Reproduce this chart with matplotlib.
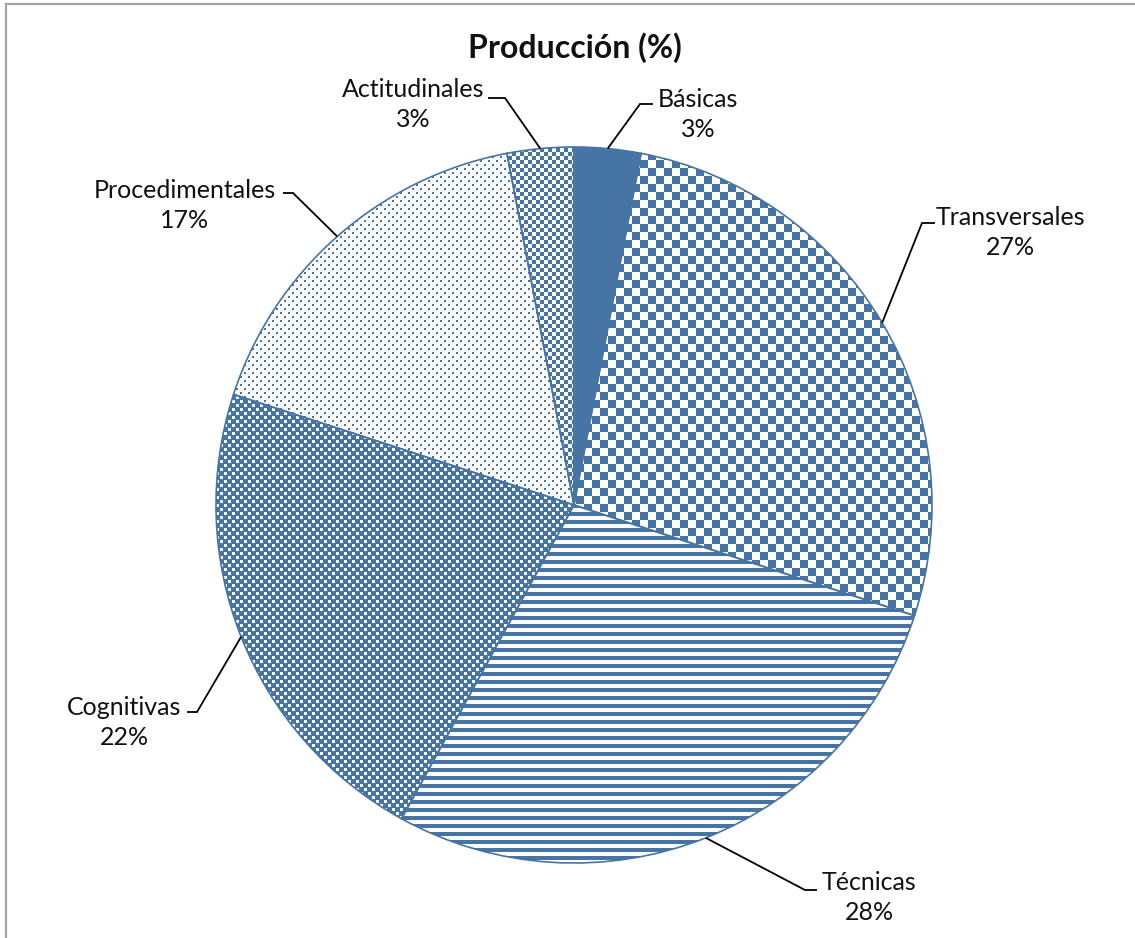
import numpy as np
import matplotlib
matplotlib.use('Agg')
from matplotlib import pyplot as plt
from matplotlib.lines import Line2D

W, H = 1135, 938
BLUE = '#4674a4'

labels = ['Básicas', 'Transversales', 'Técnicas', 'Cognitivas', 'Procedimentales', 'Actitudinales']
values = [3, 27, 28, 22, 17, 3]

# label block (name centre) and leader elbow, in pixels from the top-left corner
label_pos = [(698, 99), (1010, 217), (869, 882), (124, 707), (185, 190), (413, 89)]
elbows = [((640, 104), (653, 104)),
          ((922, 223), (935, 223)),
          ((805, 890), (817, 890)),
          ((197, 712), (187, 712)),
          ((293, 193), (283, 193)),
          ((505, 98), (488, 98))]

plt.rcParams['font.family'] = ['Lato', 'DejaVu Sans']

fig = plt.figure(figsize=(W / 100, H / 100), dpi=100)
ax = fig.add_axes([0, 0, 1, 1])

cx, cy, r = 574, 505, 358
wedges, _ = ax.pie(values, center=(cx, H - cy), radius=r, startangle=90,
                   counterclock=False,
                   wedgeprops=dict(facecolor='none', edgecolor=BLUE, linewidth=1.2))
ax.set_xlim(0, W)
ax.set_ylim(0, H)
ax.set_aspect('auto')
ax.axis('off')

# fill patterns, one pixel per array cell
yy, xx = np.mgrid[0:H, 0:W]
blue_rgb = np.array([0x46, 0x74, 0xa4]) / 255.0


def pattern(mask):
    img = np.ones((H, W, 4))
    img[mask, :3] = blue_rgb
    return img


row4 = (yy // 4) % 2
patterns = [
    pattern(np.ones((H, W), bool)),                                  # solid
    pattern(((xx // 8) + (yy // 8)) % 2 == 0),                       # big checker
    pattern((yy % 8) < 4),                                           # horizontal stripes
    pattern(~(((yy % 4) < 3) & (((xx + 4 * row4) % 8) < 3))),       # blue with white dots
    pattern(((yy % 4) < 2) & (((xx + 4 * row4) % 8) < 2)),          # white with blue dots
    pattern(((xx // 4) + (yy // 4)) % 2 == 0),                       # small checker
]

for w, img in zip(wedges, patterns):
    im = fig.figimage(img, xo=0, yo=0, origin='upper', zorder=-1)
    im.set_clip_path(w)

# leader lines and labels
cum = np.cumsum([0] + values)
total = cum[-1]
for i, (lab, v) in enumerate(zip(labels, values)):
    mid = (cum[i] + v / 2) / total * 2 * np.pi
    px = cx + r * np.sin(mid)
    py = cy - r * np.cos(mid)
    (ex, ey), (hx, hy) = elbows[i]
    ax.plot([px, ex, hx], [H - py, H - ey, H - hy], color='black', lw=1.3,
            solid_capstyle='butt', solid_joinstyle='miter')
    tx, ty = label_pos[i]
    ax.text(tx, H - ty, lab, ha='center', va='center', fontsize=18, color='#111111')
    ax.text(tx, H - ty - 30, f'{v}%', ha='center', va='center', fontsize=18,
            color='#111111')

ax.text(575, H - 48, 'Producción (%)', ha='center', va='center', fontsize=23,
        fontweight='bold', color='#111111')

# outer frame (top and left edges)
fig.add_artist(Line2D([6 / W, 6 / W], [0, 1 - 4.5 / H], color='#a6a6a6', lw=1.6,
                      transform=fig.transFigure))
fig.add_artist(Line2D([6 / W, 1], [1 - 4.5 / H, 1 - 4.5 / H], color='#a6a6a6', lw=1.6,
                      transform=fig.transFigure))

fig.savefig('out.png', dpi=100)
